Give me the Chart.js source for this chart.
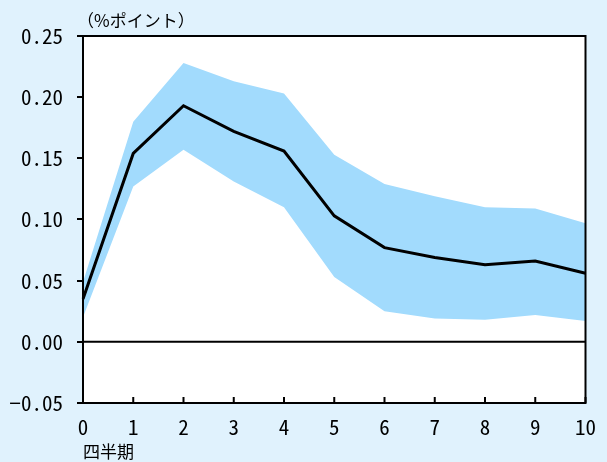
<!DOCTYPE html>
<html>
<head>
<meta charset="utf-8">
<script src="https://cdn.jsdelivr.net/npm/chart.js@4"></script>
<style>
  html, body { margin: 0; padding: 0; background: #e0f2fd; }
  #wrap { width: 607px; height: 462px; }
</style>
</head>
<body>
<div id="wrap"><canvas id="chart" width="607" height="462"></canvas></div>
<script>
const quarters = ["0", "1", "2", "3", "4", "5", "6", "7", "8", "9", "10"];
const median = [0.035, 0.154, 0.193, 0.172, 0.156, 0.103, 0.077, 0.069, 0.063, 0.066, 0.056];
const upper = [0.049, 0.180, 0.228, 0.213, 0.203, 0.153, 0.129, 0.119, 0.110, 0.109, 0.097];
const lower = [0.020, 0.127, 0.157, 0.131, 0.110, 0.053, 0.025, 0.019, 0.018, 0.022, 0.017];
const yTicks = [-0.05, 0, 0.05, 0.1, 0.15, 0.2, 0.25];

const numFont = "'Noto Sans Mono CJK JP', 'Noto Sans CJK JP', 'DejaVu Sans Mono', monospace";
const jpFont = "'Noto Sans CJK JP', sans-serif";

// white plot background
const plotBg = {
  id: "plotBg",
  beforeDraw(chart) {
    const { ctx, chartArea: a } = chart;
    ctx.save();
    ctx.fillStyle = "#fff";
    ctx.fillRect(a.left, a.top, a.right - a.left, a.bottom - a.top);
    ctx.restore();
  }
};

// frame, zero line, inward x ticks and unit label
const decorations = {
  id: "decorations",
  afterDatasetsDraw(chart) {
    const { ctx, chartArea: a, scales } = chart;
    ctx.save();
    ctx.strokeStyle = "#000";
    ctx.lineWidth = 2;
    const y0 = scales.y.getPixelForValue(0);
    ctx.beginPath();
    ctx.moveTo(a.left, y0);
    ctx.lineTo(a.right, y0);
    ctx.stroke();
    ctx.strokeRect(a.left, a.top, a.right - a.left, a.bottom - a.top);
    ctx.beginPath();
    quarters.forEach((q, i) => {
      const x = scales.x.getPixelForValue(i);
      ctx.moveTo(x, a.bottom);
      ctx.lineTo(x, a.bottom - 6);
    });
    ctx.stroke();
    ctx.fillStyle = "#000";
    ctx.font = "17px " + jpFont;
    ctx.textBaseline = "bottom";
    ctx.textAlign = "left";
    ctx.fillText("（%ポイント）", a.left - 6, a.top - 7);
    ctx.restore();
  }
};

new Chart(document.getElementById("chart"), {
  type: "line",
  data: {
    labels: quarters,
    datasets: [
      {
        label: "upper",
        data: upper,
        order: 2,
        borderWidth: 0,
        pointRadius: 0,
        backgroundColor: "#a2dbfd",
        fill: "+1",
        tension: 0
      },
      {
        label: "lower",
        data: lower,
        order: 2,
        borderWidth: 0,
        pointRadius: 0,
        fill: false,
        tension: 0
      },
      {
        label: "median",
        data: median,
        order: 0,
        borderColor: "#000",
        borderWidth: 3,
        pointRadius: 0,
        fill: false,
        tension: 0
      }
    ]
  },
  options: {
    responsive: false,
    animation: false,
    layout: { padding: { top: 36, right: 20, left: 0, bottom: 0 } },
    plugins: {
      legend: { display: false },
      tooltip: { enabled: false }
    },
    scales: {
      x: {
        offset: false,
        grid: { drawOnChartArea: false, drawTicks: false },
        border: { display: false },
        ticks: {
          color: "#000",
          font: { family: numFont, size: 21 },
          padding: 11,
          maxRotation: 0
        },
        title: {
          display: true,
          text: "四半期",
          align: "start",
          color: "#000",
          font: { family: jpFont, size: 17 },
          padding: { top: 2, bottom: 0 }
        },
        afterFit(scale) { scale.height = 59; }
      },
      y: {
        min: -0.05,
        max: 0.25,
        afterBuildTicks(scale) { scale.ticks = yTicks.map(v => ({ value: v })); },
        grid: { drawOnChartArea: false, drawTicks: true, tickLength: 6, color: "#000", lineWidth: 2 },
        border: { display: false },
        ticks: {
          color: "#000",
          font: { family: numFont, size: 21 },
          padding: 14,
          callback: v => (v < 0 ? "−" : "") + Math.abs(v).toFixed(2)
        },
        afterFit(scale) { scale.width = 83; }
      }
    }
  },
  plugins: [plotBg, decorations]
});
</script>
</body>
</html>
